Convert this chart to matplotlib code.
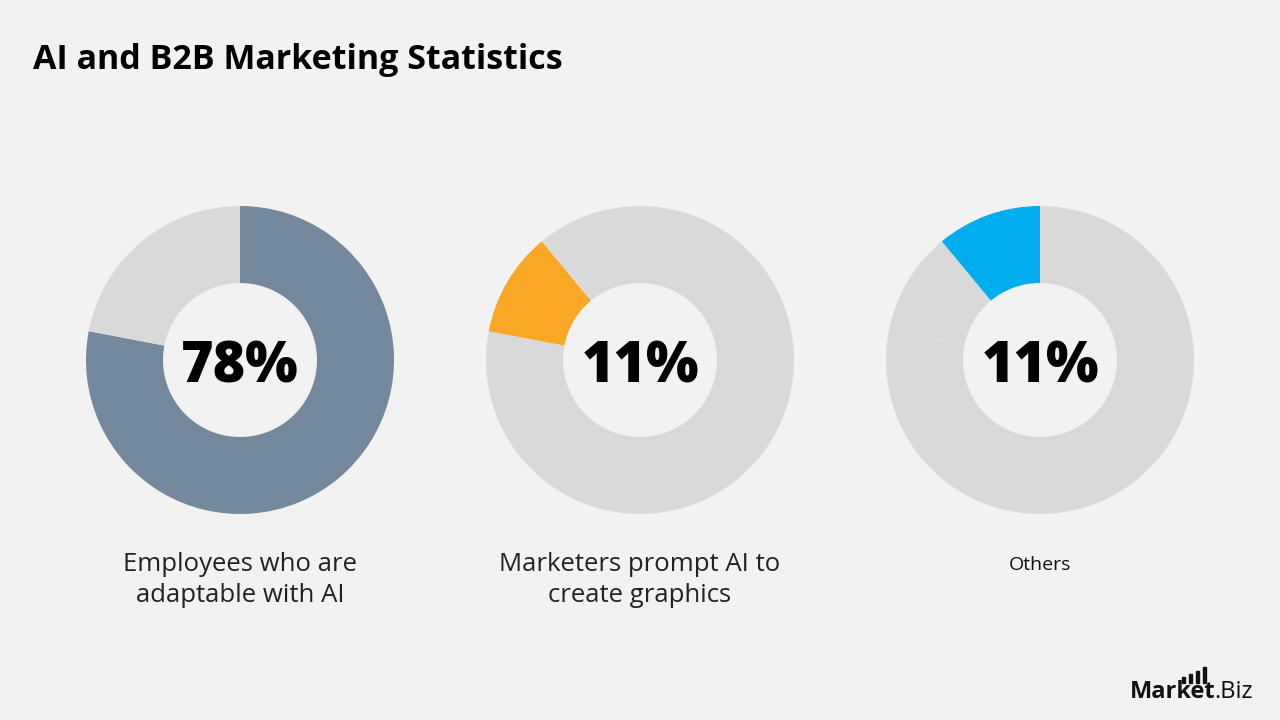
import matplotlib.pyplot as plt
from matplotlib.patches import Rectangle

# data
slice_values = [78, 11, 11]
highlight_index = [0, 1, 2]
center_labels = ['78%', '11%', '11%']
captions = ['Employees who are\nadaptable with AI', 'Marketers prompt AI to\ncreate graphics', 'Others']
highlight_colors = ['#74899E', '#FBA726', '#00AEEF']
base_color = '#D9D9D9'
bg = '#F2F2F2'

fig = plt.figure(figsize=(12.8, 7.2), dpi=100, facecolor=bg)

centers_x = [240, 640, 1040]
cy = 360
r_px = 154

for i, cx in enumerate(centers_x):
    ax = fig.add_axes([(cx - r_px) / 1280, (720 - cy - r_px) / 720, 2 * r_px / 1280, 2 * r_px / 720])
    ax.set_facecolor(bg)
    cols = [base_color] * len(slice_values)
    cols[highlight_index[i]] = highlight_colors[i]
    ax.pie(slice_values, colors=cols, startangle=90, counterclock=False, radius=1.0,
           wedgeprops=dict(width=0.5, edgecolor='none', linewidth=0))
    ax.set_aspect('equal')
    ax.set_xlim(-1, 1)
    ax.set_ylim(-1, 1)
    ax.axis('off')
    ax.text(0, -0.055, center_labels[i], ha='center', va='center', fontsize=40,
            fontweight='heavy', family='Open Sans', color='black')
    if i < 2:
        fig.text(cx / 1280, 1 - 580 / 720, captions[i], ha='center', va='center',
                 fontsize=18.5, family='Open Sans', color='#222222', linespacing=1.3)
    else:
        fig.text(cx / 1280, 1 - 565 / 720, captions[i], ha='center', va='center',
                 fontsize=14, family='Open Sans', color='#111111')

fig.text(33 / 1280, 1 - 60 / 720, 'AI and B2B Marketing Statistics', ha='left', va='center',
         fontsize=24.5, fontweight='bold', family='Open Sans', color='black')

# logo
t1 = fig.text(1130 / 1280, 1 - 692 / 720, 'Market', ha='left', va='center', fontsize=17,
              fontweight='bold', family='Open Sans', color='#111111')
fig.canvas.draw()
bb = t1.get_window_extent()
fig.text((bb.x1 - 1) / 1280, 1 - 692 / 720, '.Biz', ha='left', va='center', fontsize=17,
         family='Open Sans', color='#111111')
for k, bh in enumerate([6, 9, 12, 16]):
    bx = bb.x1 - 34 + k * 7
    fig.patches.append(Rectangle((bx / 1280, (720 - 683) / 720), 3.5 / 1280, bh / 720,
                                 transform=fig.transFigure, color='#111111'))

fig.savefig('out.png', dpi=100, facecolor=bg)
